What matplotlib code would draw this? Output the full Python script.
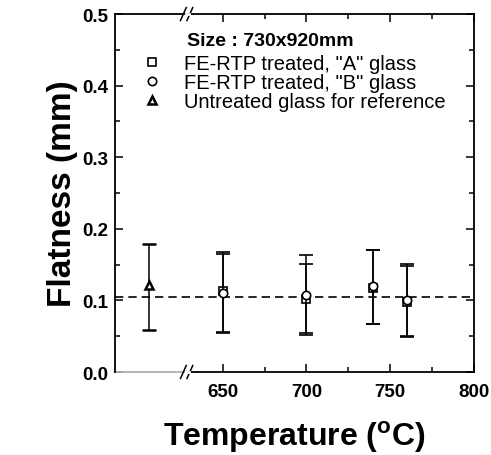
import numpy as np
import matplotlib.pyplot as plt
from matplotlib.ticker import MultipleLocator, FixedLocator
from matplotlib.lines import Line2D

plt.rcParams['font.family'] = ['Liberation Sans', 'DejaVu Sans']
plt.rcParams['mathtext.fontset'] = 'custom'
plt.rcParams['mathtext.rm'] = 'Liberation Sans:bold'

# data
temp_a = [650, 700, 740, 760]
flat_a = [0.113, 0.102, 0.118, 0.098]
hi_a = [0.168, 0.151, 0.171, 0.151]
lo_a = [0.055, 0.054, 0.067, 0.050]

temp_b = [650, 700, 740, 760]
flat_b = [0.110, 0.108, 0.120, 0.100]
hi_b = [0.165, 0.164, 0.170, 0.148]
lo_b = [0.056, 0.051, 0.067, 0.049]

temp_ref = [606]
flat_ref = [0.122]
hi_ref = [0.179]
lo_ref = [0.059]

mean_flat = 0.105
x_break = 629

fig = plt.figure(figsize=(4.91, 4.56), dpi=100)
ax = fig.add_axes([0.234, 0.182, 0.731, 0.785])

def errs(y, lo, hi):
    y = np.array(y); return [y - np.array(lo), np.array(hi) - y]

kw = dict(ls='none', color='black', ecolor='black', elinewidth=1.1,
          capsize=5, capthick=1.1, mfc='white', mec='black', mew=1.2, ms=6)
ax.errorbar(temp_a, flat_a, yerr=errs(flat_a, lo_a, hi_a), marker='s', zorder=3, **kw)
ax.errorbar(temp_b, flat_b, yerr=errs(flat_b, lo_b, hi_b), marker='o', zorder=4, **kw)
ax.errorbar(temp_ref, flat_ref, yerr=errs(flat_ref, lo_ref, hi_ref), marker='^',
            zorder=4, **{**kw, 'mew': 1.8})

ax.axhline(mean_flat, color='black', lw=1.2, ls=(0, (5, 3)), zorder=2)

ax.set_xlim(585.5, 800)
ax.set_ylim(0, 0.5)
ax.xaxis.set_major_locator(FixedLocator([650, 700, 750, 800]))
ax.xaxis.set_minor_locator(FixedLocator([675, 725, 775]))
ax.yaxis.set_major_locator(MultipleLocator(0.1))
ax.yaxis.set_minor_locator(MultipleLocator(0.05))
ax.yaxis.set_major_formatter(plt.FormatStrFormatter('%.1f'))
ax.tick_params(which='both', direction='in', top=True, right=True, width=1.1)
ax.tick_params(which='major', length=6, labelsize=13.5, pad=5)
ax.tick_params(axis='x', which='major', pad=8)
ax.tick_params(which='minor', length=3.5)
for lab in ax.get_xticklabels() + ax.get_yticklabels():
    lab.set_fontweight('bold')

for s in ['left', 'right', 'top']:
    ax.spines[s].set_linewidth(1.3)
ax.spines['bottom'].set_visible(False)

# broken bottom axis
xb = (x_break - 585.5) / (800 - 585.5)
trans = ax.transAxes
ax.add_line(Line2D([0, xb - 0.01], [0, 0], transform=trans, color='#b0b0b0', lw=1.3, clip_on=False))
ax.add_line(Line2D([xb + 0.01, 1], [0, 0], transform=trans, color='black', lw=1.3, clip_on=False))
for yy in (0, 1):
    for dx in (-0.012, 0.006):
        ax.add_line(Line2D([xb + dx - 0.008, xb + dx + 0.008], [yy - 0.018, yy + 0.018],
                           transform=trans, color='black', lw=1.1, clip_on=False))
    ax.add_line(Line2D([xb - 0.004, xb + 0.004], [yy, yy], transform=trans,
                       color='white', lw=2, clip_on=False, zorder=5))

ax.set_ylabel('Flatness (mm)', fontsize=24, fontweight='bold', labelpad=3)
ax.set_xlabel(r'Temperature ($^{\mathrm{o}}$C)', fontsize=23, fontweight='bold', labelpad=13)

ax.text(0.2, 0.925, 'Size : 730x920mm', transform=trans, fontsize=14, fontweight='bold',
        ha='left', va='center')
handles = [Line2D([], [], ls='none', marker='s', mfc='white', mec='black', mew=1.2, ms=6),
           Line2D([], [], ls='none', marker='o', mfc='white', mec='black', mew=1.2, ms=6),
           Line2D([], [], ls='none', marker='^', mfc='white', mec='black', mew=1.8, ms=6)]
labels = ['FE-RTP treated, "A" glass', 'FE-RTP treated, "B" glass', 'Untreated glass for reference']
ax.legend(handles, labels, loc='upper left', bbox_to_anchor=(0.071, 0.887),
          frameon=False, fontsize=14.5, borderpad=0, borderaxespad=0,
          handletextpad=0.96, labelspacing=0.0, handlelength=1.2)

fig.savefig('out.png', dpi=100)
